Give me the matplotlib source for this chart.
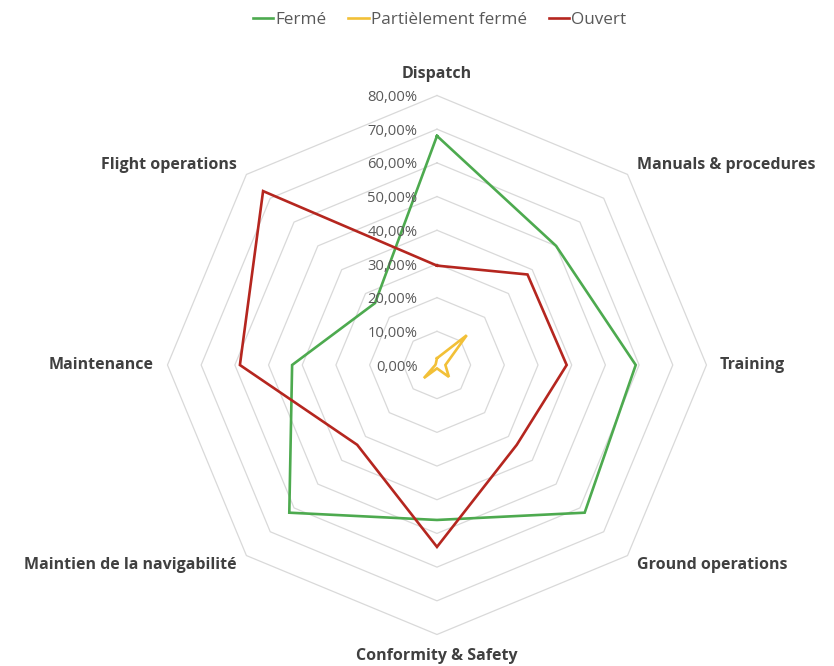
import numpy as np
import matplotlib
matplotlib.use("Agg")
import matplotlib.pyplot as plt
from matplotlib.transforms import offset_copy

# ---- data ----
categories = ["Dispatch", "Manuals & procedures", "Training", "Ground operations",
              "Conformity & Safety", "Maintien de la navigabilité", "Maintenance",
              "Flight operations"]
ferme = [0.68, 0.50, 0.59, 0.62, 0.46, 0.62, 0.43, 0.26]
partiel = [0.02, 0.125, 0.025, 0.05, 0.01, 0.055, 0.005, 0.005]
ouvert = [0.295, 0.38, 0.385, 0.335, 0.54, 0.335, 0.585, 0.73]
series_names = ["Fermé", "Partièlement fermé", "Ouvert"]
colors = ["#4DAA4F", "#F2C037", "#B5261F"]
levels = [0.0, 0.1, 0.2, 0.3, 0.4, 0.5, 0.6, 0.7, 0.8]
level_labels = ["0,00%", "10,00%", "20,00%", "30,00%", "40,00%", "50,00%",
                "60,00%", "70,00%", "80,00%"]

plt.rcParams['font.family'] = ['Open Sans', 'DejaVu Sans']

fig = plt.figure(figsize=(8.34, 6.66), dpi=100)
ax = fig.add_axes([0.2008, 0.0473, 0.6463, 0.8093], projection='polar')
ax.set_theta_zero_location('N')
ax.set_theta_direction(-1)
ax.set_ylim(0, 0.8)
ax.grid(False)
ax.spines['polar'].set_visible(False)
ax.set_xticks([])
ax.set_yticks([])
ax.patch.set_alpha(0)

n = len(categories)
angles = np.linspace(0, 2 * np.pi, n, endpoint=False)
ang_c = np.concatenate([angles, angles[:1]])

# polygonal grid
for lv in levels[1:]:
    ax.plot(ang_c, [lv] * (n + 1), color="#D9D9D9", lw=0.9, zorder=1, clip_on=False)

# series
handles = []
for name, vals, col in zip(series_names, [ferme, partiel, ouvert], colors):
    v = list(vals) + [vals[0]]
    h, = ax.plot(ang_c, v, color=col, lw=1.9, zorder=3, label=name,
                 solid_joinstyle='miter', clip_on=False)
    handles.append(h)

# radial labels
tr = offset_copy(ax.transData, fig=fig, x=-14, y=-1.5, units='points')
for lv, lab in zip(levels, level_labels):
    ax.text(0, lv, lab, transform=tr, ha='right', va='center',
            fontsize=10.6, color="#595959", zorder=4)

# category labels
r_lab = 0.84
aligns = [('center', 'bottom'), ('left', 'center'), ('left', 'center'),
          ('left', 'center'), ('center', 'top'), ('right', 'center'),
          ('right', 'center'), ('right', 'center')]
for a, cat, (ha, va) in zip(angles, categories, aligns):
    ax.text(a, r_lab, cat, ha=ha, va=va, fontsize=11.5, fontweight='bold',
            color="#404040", clip_on=False)

leg = fig.legend(handles=handles, labels=series_names, loc='upper center',
                 bbox_to_anchor=(0.527, 1.005), ncol=3, frameon=False,
                 handlelength=1.2, handletextpad=0.1, columnspacing=1.3,
                 fontsize=12.3)
for t in leg.get_texts():
    t.set_color("#595959")

fig.savefig("out.png", dpi=100)
